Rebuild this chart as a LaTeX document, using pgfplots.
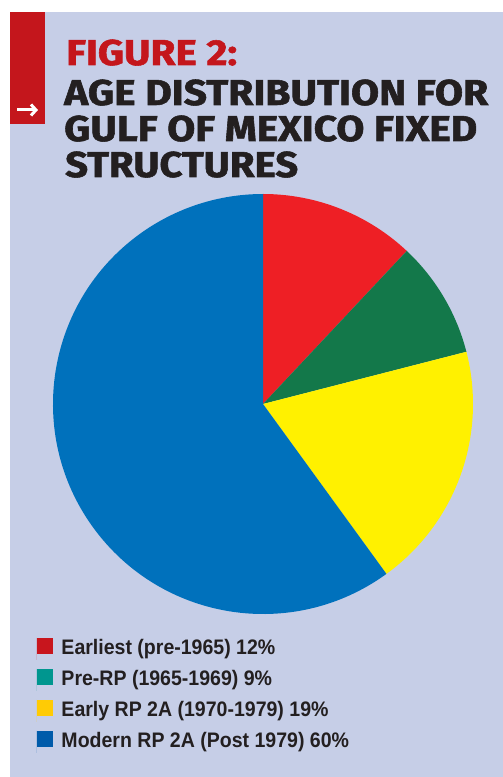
\documentclass[border=0pt]{standalone}
\usepackage{pgfplots}
\pgfplotsset{compat=1.18}
\usepackage{pgfplotstable}
\usepackage{graphicx}
\usepackage{fontspec}
\usetikzlibrary{arrows.meta}
\setmainfont{Liberation Sans}
\newfontfamily\legendfont{Liberation Sans}[FakeStretch=0.93]
\newfontfamily\titlefont{Fira Sans}[BoldFeatures={FakeBold=1.5}]
\definecolor{bg}{HTML}{C6CEE7}
\definecolor{barRed}{HTML}{C4161C}
\definecolor{titleBlack}{HTML}{231F20}
\definecolor{pieRed}{HTML}{EE1F25}
\definecolor{pieGreen}{HTML}{13784A}
\definecolor{pieYellow}{HTML}{FFF100}
\definecolor{pieBlue}{HTML}{0071BC}
\definecolor{legRed}{HTML}{C8151D}
\definecolor{legGreen}{HTML}{00968F}
\definecolor{legYellow}{HTML}{FFCB05}
\definecolor{legBlue}{HTML}{005BAA}
\pgfplotsset{sq legend/.style={legend image code/.code={\path (0pt,-11pt) -- (0pt,11pt); \fill[##1] (0pt,-5pt) rectangle (16pt,11pt);}}}
\pgfplotstableread{
share pie
12 pieRed
9 pieGreen
19 pieYellow
60 pieBlue
}\piedata
\begin{document}
\begin{tikzpicture}
\fill[white] (0pt,0pt) rectangle (503pt,777pt);
\fill[bg] (10pt,0pt) rectangle (503pt,765pt);
\fill[barRed] (10pt,653pt) rectangle (45pt,765pt);
\draw[white, line width=3pt, -{Straight Barb[length=5pt,width=11pt,line width=3pt]}] (17pt,667pt) -- (38pt,667pt);
\node[anchor=base west, inner sep=0pt, text=barRed] at (66pt,712pt) {\resizebox{171pt}{25.5pt}{\titlefont\bfseries FIGURE 2:}};
\node[anchor=base west, inner sep=0pt, text=titleBlack] at (64pt,672pt) {\resizebox{424pt}{25.5pt}{\titlefont\bfseries AGE DISTRIBUTION FOR}};
\node[anchor=base west, inner sep=0pt, text=titleBlack] at (64pt,636pt) {\resizebox{413pt}{25.5pt}{\titlefont\bfseries GULF OF MEXICO FIXED}};
\node[anchor=base west, inner sep=0pt, text=titleBlack] at (65pt,600pt) {\resizebox{233pt}{25.5pt}{\titlefont\bfseries STRUCTURES}};
\begin{axis}[
  at={(263pt,373pt)}, anchor=center,
  width=420pt, height=420pt, scale only axis,
  xmin=-1, xmax=1, ymin=-1, ymax=1,
  hide axis, clip=false,
  legend cell align=left,
  legend style={at={(axis description cs:-0.0381,-0.057)}, anchor=north west,
    draw=none, fill=none, inner sep=0pt, outer sep=0pt,
    row sep=9pt, column sep=8.5pt,
    font=\legendfont\bfseries\fontsize{21}{25}\selectfont,
    text=titleBlack,
    nodes={inner sep=0pt, text height=15pt, text depth=3pt}},
]
\pgfmathsetmacro\cum{0}
\pgfplotsforeachungrouped \i in {0,...,3}{%
  \pgfplotstablegetelem{\i}{share}\of\piedata \let\share\pgfplotsretval
  \pgfplotstablegetelem{\i}{pie}\of\piedata \let\pcol\pgfplotsretval
  \pgfmathsetmacro\sa{90-3.6*\cum}%
  \pgfmathsetmacro\ea{90-3.6*(\cum+\share)}%
  \edef\temp{\noexpand\fill[\pcol] (axis cs:0,0) -- (axis cs:{cos(\sa)},{sin(\sa)}) arc[start angle=\sa, end angle=\ea, radius=1] -- cycle;}%
  \temp
  \pgfmathsetmacro\cum{\cum+\share}%
}
\addlegendimage{sq legend, fill=legRed, draw=none}
\addlegendentry{Earliest (pre-1965) 12\%}
\addlegendimage{sq legend, fill=legGreen, draw=none}
\addlegendentry{Pre-RP (1965-1969) 9\%}
\addlegendimage{sq legend, fill=legYellow, draw=none}
\addlegendentry{Early RP 2A (1970-1979) 19\%}
\addlegendimage{sq legend, fill=legBlue, draw=none}
\addlegendentry{Modern RP 2A (Post 1979) 60\%}
\end{axis}
\end{tikzpicture}
\end{document}
